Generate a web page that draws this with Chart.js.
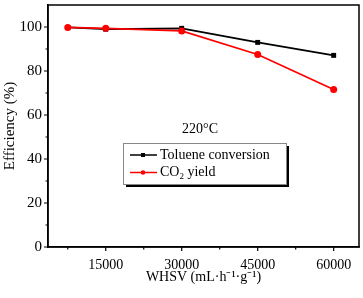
<!DOCTYPE html>
<html>
<head>
<meta charset="utf-8">
<script src="https://cdn.jsdelivr.net/npm/chart.js@4"></script>
<style>
  html, body { margin: 0; padding: 0; background: #fff; }
  #wrap { width: 363px; height: 298px; }
</style>
</head>
<body>
<div id="wrap"><canvas id="whsvChart" width="363" height="298"></canvas></div>
<script>
// data
const whsv = [7500, 15000, 30000, 45000, 60000];
const tolueneConversion = [99.8, 99.0, 99.4, 93.0, 87.1];
const co2Yield = [99.8, 99.4, 98.2, 87.5, 71.6];
const xMajor = [15000, 30000, 45000, 60000];
const xMinor = [7500, 22500, 37500, 52500];
const yMajor = [0, 20, 40, 60, 80, 100];
const yMinor = [10, 30, 50, 70, 90];

const serif = '"Liberation Serif", "Times New Roman", serif';

// box frame, outward ticks, in-plot annotation and legend
const framePlugin = {
    id: 'frame',
    afterDraw(chart) {
        const ctx = chart.ctx;
        const a = chart.chartArea;
        const x = chart.scales.x, y = chart.scales.y;
        ctx.save();
        ctx.strokeStyle = '#000';
        ctx.lineWidth = 1.5;
        ctx.strokeRect(a.left, a.top, a.right - a.left, a.bottom - a.top);

        ctx.lineWidth = 1.2;
        ctx.beginPath();
        xMajor.forEach(v => { const p = x.getPixelForValue(v); ctx.moveTo(p, a.bottom); ctx.lineTo(p, a.bottom + 4); });
        xMinor.forEach(v => { const p = x.getPixelForValue(v); ctx.moveTo(p, a.bottom); ctx.lineTo(p, a.bottom + 2.5); });
        yMajor.forEach(v => { const p = y.getPixelForValue(v); ctx.moveTo(a.left, p); ctx.lineTo(a.left - 4, p); });
        yMinor.forEach(v => { const p = y.getPixelForValue(v); ctx.moveTo(a.left, p); ctx.lineTo(a.left - 2.5, p); });
        ctx.stroke();

        // temperature label
        ctx.fillStyle = '#000';
        ctx.font = '14px ' + serif;
        ctx.textAlign = 'center';
        ctx.textBaseline = 'middle';
        ctx.fillText('220°C', 200, 129);

        // legend box with shadow
        const lx = 123, ly = 143, lw = 163, lh = 41;
        ctx.fillStyle = '#000';
        ctx.fillRect(lx + 3, ly + 3, lw, lh);
        ctx.fillStyle = '#fff';
        ctx.fillRect(lx, ly, lw, lh);
        ctx.strokeStyle = '#888';
        ctx.lineWidth = 1;
        ctx.strokeRect(lx + 0.5, ly + 0.5, lw, lh);

        const rows = [
            { ds: chart.data.datasets[0], y: 155 },
            { ds: chart.data.datasets[1], y: 172.5 }
        ];
        rows.forEach(r => {
            ctx.strokeStyle = r.ds.borderColor;
            ctx.fillStyle = r.ds.borderColor;
            ctx.lineWidth = 1.5;
            ctx.beginPath();
            ctx.moveTo(130, r.y);
            ctx.lineTo(157, r.y);
            ctx.stroke();
            if (r.ds.pointStyle === 'rect') {
                ctx.fillRect(141, r.y - 2, 4, 4);
            } else {
                ctx.beginPath();
                ctx.arc(143, r.y, 2.3, 0, Math.PI * 2);
                ctx.fill();
            }
        });
        ctx.fillStyle = '#000';
        ctx.textAlign = 'left';
        ctx.font = '14px ' + serif;
        ctx.fillText('Toluene conversion', 160, 155);
        ctx.fillText('CO', 160, 172.5);
        const coW = ctx.measureText('CO').width;
        ctx.font = '9px ' + serif;
        ctx.fillText('2', 160 + coW, 176.5);
        const subW = ctx.measureText('2').width;
        ctx.font = '14px ' + serif;
        ctx.fillText(' yield', 160 + coW + subW, 172.5);
        ctx.restore();
    }
};

const ctx = document.getElementById('whsvChart').getContext('2d');
const whsvChart = new Chart(ctx, {
    type: 'line',
    data: {
        labels: whsv,
        datasets: [{
            label: 'Toluene conversion',
            data: whsv.map((v, i) => ({ x: v, y: tolueneConversion[i] })),
            borderColor: '#000000',
            backgroundColor: '#000000',
            borderWidth: 1.8,
            pointStyle: 'rect',
            pointRadius: 3.5,
            pointBorderWidth: 0,
            tension: 0,
            order: 2
        }, {
            label: 'CO2 yield',
            data: whsv.map((v, i) => ({ x: v, y: co2Yield[i] })),
            borderColor: '#ff0000',
            backgroundColor: '#ff0000',
            borderWidth: 1.8,
            pointStyle: 'circle',
            pointRadius: 3.5,
            pointBorderWidth: 0,
            tension: 0,
            order: 1
        }]
    },
    options: {
        responsive: false,
        animation: false,
        layout: { padding: { top: 5, right: 4, left: 0, bottom: 0 } },
        plugins: {
            legend: { display: false },
            tooltip: { enabled: false }
        },
        scales: {
            x: {
                type: 'linear',
                min: 3600,
                max: 65000,
                afterBuildTicks: scale => { scale.ticks = xMajor.map(v => ({ value: v })); },
                afterFit: scale => {
                    scale.height = 51;
                    scale.paddingLeft = 0;
                    scale.paddingRight = 0;
                },
                grid: { display: false, drawTicks: false },
                border: { color: '#000', width: 1.5 },
                ticks: {
                    padding: 10,
                    color: '#000',
                    font: { family: serif, size: 14 },
                    callback: v => String(v)
                },
                title: {
                    display: true,
                    text: 'WHSV (mL·h⁻¹·g⁻¹)',
                    color: '#000',
                    font: { family: serif, size: 14 },
                    padding: { top: 0, bottom: 12 }
                }
            },
            y: {
                min: 0,
                max: 110,
                afterBuildTicks: scale => { scale.ticks = yMajor.map(v => ({ value: v })); },
                afterFit: scale => {
                    scale.width = 48;
                    scale.paddingTop = 0;
                    scale.paddingBottom = 0;
                },
                grid: { display: false, drawTicks: false },
                border: { color: '#000', width: 1.5 },
                ticks: {
                    padding: 6,
                    color: '#000',
                    font: { family: serif, size: 15 }
                },
                title: {
                    display: true,
                    text: 'Efficiency (%)',
                    color: '#000',
                    font: { family: serif, size: 15 },
                    padding: { top: 1, bottom: 0 }
                }
            }
        }
    },
    plugins: [framePlugin]
});
</script>
</body>
</html>
